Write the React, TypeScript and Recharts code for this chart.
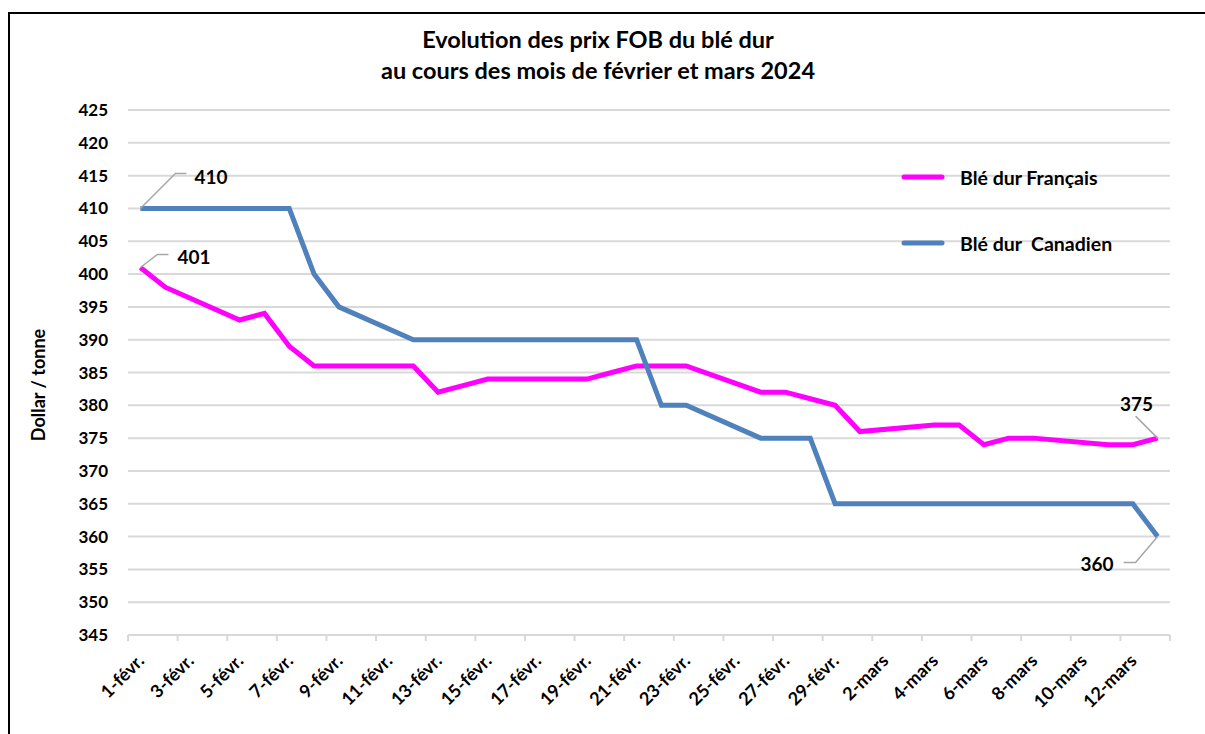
import React from "react";
import { LineChart, Line, XAxis, YAxis, CartesianGrid, Legend, LabelList } from "recharts";

const days = [
  "1-févr.", "2-févr.", "3-févr.", "4-févr.", "5-févr.", "6-févr.", "7-févr.", "8-févr.", "9-févr.", "10-févr.",
  "11-févr.", "12-févr.", "13-févr.", "14-févr.", "15-févr.", "16-févr.", "17-févr.", "18-févr.", "19-févr.", "20-févr.",
  "21-févr.", "22-févr.", "23-févr.", "24-févr.", "25-févr.", "26-févr.", "27-févr.", "28-févr.", "29-févr.",
  "1-mars", "2-mars", "3-mars", "4-mars", "5-mars", "6-mars", "7-mars", "8-mars", "9-mars", "10-mars",
  "11-mars", "12-mars", "13-mars",
];

// weekends have no quote (null), the line just joins across them
const francais = [
  401, 398, null, null, 393, 394, 389, 386, 386, null,
  null, 386, 382, 383, 384, 384, null, null, 384, 385,
  386, 386, 386, null, null, 382, 382, 381, 380,
  376, null, null, 377, 377, 374, 375, 375, null, null,
  374, 374, 375,
];

const canadien = [
  410, 410, null, null, 410, 410, 410, 400, 395, null,
  null, 390, 390, 390, 390, 390, null, null, 390, 390,
  390, 380, 380, null, null, 375, 375, 375, 365,
  365, null, null, 365, 365, 365, 365, 365, null, null,
  365, 365, 360,
];

const yTicks = [345, 350, 355, 360, 365, 370, 375, 380, 385, 390, 395, 400, 405, 410, 415, 420, 425];

const legendOrder = ["Blé dur Français", "Blé dur  Canadien"];

const data = days.map((day, i) => ({ day, fr: francais[i], ca: canadien[i] }));

const FONT = "Lato, 'Noto Sans', sans-serif";
const PAD = 12.4; // half a category width
const GRID = "#d9d9d9";
const LEADER = "#a6a6a6";

const XTick = (props: any) => {
  const { x, y, payload } = props;
  const axisY = y - 8;
  const last = payload.index === days.length - 2;
  return (
    <g>
      <line x1={x - PAD} x2={x - PAD} y1={axisY} y2={axisY + 6} stroke={GRID} strokeWidth={2} />
      {last && <line x1={x + 3 * PAD} x2={x + 3 * PAD} y1={axisY} y2={axisY + 6} stroke={GRID} strokeWidth={2} />}
      <text
        x={x + 5}
        y={y + 19}
        textAnchor="end"
        transform={`rotate(-45, ${x + 5}, ${y + 19})`}
        fontFamily={FONT}
        fontWeight={700}
        fontSize={18}
        fill="#000"
      >
        {payload.value}
      </text>
    </g>
  );
};

const tickStyle = { fontFamily: FONT, fontWeight: 700, fontSize: 17, fill: "#000" };
const labelStyle = { fontFamily: FONT, fontWeight: 700, fontSize: 19, fill: "#000" };

const frLabel = (props: any) => {
  const { x, y, value, index } = props;
  if (index === 0) {
    return (
      <g>
        <polyline points={`${x},${y} ${x + 17},${y - 13} ${x + 28},${y - 13}`} fill="none" stroke={LEADER} strokeWidth={1.5} />
        <text x={x + 37} y={y - 11} dominantBaseline="central" {...labelStyle}>{value}</text>
      </g>
    );
  }
  if (index === days.length - 1) {
    return (
      <g>
        <polyline points={`${x},${y} ${x - 22},${y - 22}`} fill="none" stroke={LEADER} strokeWidth={1.5} />
        <text x={x - 21} y={y - 35} textAnchor="middle" dominantBaseline="central" {...labelStyle}>{value}</text>
      </g>
    );
  }
  return null;
};

const caLabel = (props: any) => {
  const { x, y, value, index } = props;
  if (index === 0) {
    return (
      <g>
        <polyline points={`${x},${y} ${x + 35},${y - 35} ${x + 46},${y - 35}`} fill="none" stroke={LEADER} strokeWidth={1.5} />
        <text x={x + 54} y={y - 32} dominantBaseline="central" {...labelStyle}>{value}</text>
      </g>
    );
  }
  if (index === days.length - 1) {
    return (
      <g>
        <polyline points={`${x},${y} ${x - 22},${y + 26} ${x - 34},${y + 26}`} fill="none" stroke={LEADER} strokeWidth={1.5} />
        <text x={x - 44} y={y + 27} textAnchor="end" dominantBaseline="central" {...labelStyle}>{value}</text>
      </g>
    );
  }
  return null;
};

const LegendBox = (props: any) => {
  const items = [...(props.payload || [])].sort(
    (a: any, b: any) => legendOrder.indexOf(a.value) - legendOrder.indexOf(b.value)
  );
  return (
    <div>
      {items.map((p: any) => (
        <div key={p.value} style={{ display: "flex", alignItems: "center", height: 66 }}>
          <svg width={60} height={10}>
            <line x1={4} x2={42} y1={5} y2={5} stroke={p.color} strokeWidth={5} strokeLinecap="round" />
          </svg>
          <span style={{ fontFamily: FONT, fontWeight: 700, fontSize: 19.5, color: "#000", whiteSpace: "pre" }}>{p.value}</span>
        </div>
      ))}
    </div>
  );
};

export default function App() {
  return (
    <div style={{ position: "absolute", left: 0, top: 0, width: 1205, height: 734, background: "#fff" }}>
      <div
        style={{
          position: "absolute",
          left: 8,
          top: 12,
          right: 0,
          bottom: 0,
          borderLeft: "2px solid #000",
          borderTop: "2px solid #000",
        }}
      />
      <div
        style={{
          position: "absolute",
          left: 348,
          width: 500,
          top: 24,
          textAlign: "center",
          fontFamily: FONT,
          fontWeight: 700,
          fontSize: 23.5,
          lineHeight: "31px",
          color: "#000",
        }}
      >
        Evolution des prix FOB du blé dur
        <br />
        au cours des mois de février et mars 2024
      </div>
      <div
        style={{
          position: "absolute",
          left: 38,
          top: 385,
          transform: "translate(-50%, -50%) rotate(-90deg)",
          fontFamily: FONT,
          fontWeight: 700,
          fontSize: 18,
          whiteSpace: "nowrap",
          color: "#000",
        }}
      >
        Dollar / tonne
      </div>
      <div style={{ position: "absolute", left: 0, top: 0 }}>
        <LineChart width={1205} height={734} data={data} margin={{ top: 110, right: 35, left: 0, bottom: 19 }}>
          <CartesianGrid vertical={false} stroke={GRID} strokeWidth={2} />
          <XAxis
            dataKey="day"
            height={80}
            interval={1}
            padding={{ left: PAD, right: PAD }}
            tickLine={false}
            axisLine={{ stroke: GRID, strokeWidth: 2 }}
            tick={<XTick />}
          />
          <YAxis
            width={128}
            domain={[345, 425]}
            ticks={yTicks}
            interval={0}
            tickLine={false}
            axisLine={false}
            tickMargin={14}
            tick={tickStyle}
          />
          <Legend
            layout="vertical"
            align="center"
            verticalAlign="middle"
            content={<LegendBox />}
            wrapperStyle={{ position: "absolute", left: 900, top: 144, width: 280 }}
          />
          <Line
            name="Blé dur Français"
            dataKey="fr"
            stroke="#ff00ff"
            strokeWidth={5}
            dot={false}
            connectNulls
            isAnimationActive={false}
          >
            <LabelList dataKey="fr" content={frLabel} />
          </Line>
          <Line
            name="Blé dur  Canadien"
            dataKey="ca"
            stroke="#4f81bd"
            strokeWidth={5}
            dot={false}
            connectNulls
            isAnimationActive={false}
          >
            <LabelList dataKey="ca" content={caLabel} />
          </Line>
        </LineChart>
      </div>
    </div>
  );
}
